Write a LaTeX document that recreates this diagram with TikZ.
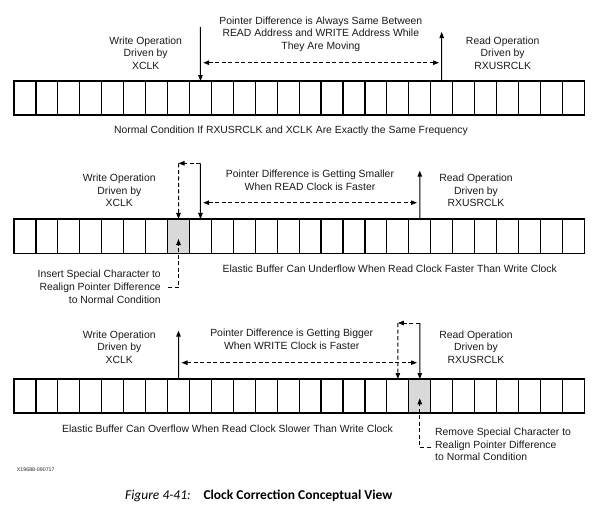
\documentclass[tikz,border=0pt]{standalone}
\usepackage{fontspec}
\setmainfont{Liberation Sans}
\newfontfamily\capfont{Carlito}
\usetikzlibrary{arrows.meta}
\begin{document}
\begin{tikzpicture}[x=1pt,y=-1pt,
  cell/.style={draw=black,line width=1.2pt,minimum width=21.935pt,minimum height=34pt,inner sep=0pt,outer sep=0pt},
  tip/.style={-{Triangle[length=6pt,width=4.5pt]}},
  arr/.style={tip,line width=1pt},
  darr/.style={arr,dash pattern=on 4pt off 2.5pt},
  dbl/.style={{Triangle[length=6pt,width=4.5pt]}-{Triangle[length=6pt,width=4.5pt]},line width=1pt,dash pattern=on 4pt off 2.5pt},
  lbl/.style={inner sep=0pt,align=center,font=\fontsize{10.4}{12.6}\selectfont,text=black!90},
  lblone/.style={inner sep=0pt,anchor=base,font=\fontsize{10.4}{12.6}\selectfont,text=black!90}]
\useasboundingbox (0,0) rectangle (603,517);
% buffers
\foreach \i in {0,...,25}{
  \node[cell] (A\i) at ({14+(\i+0.5)*21.935},98) {};
}
\foreach \i in {0,...,25}{
  \ifnum\i=7 \def\f{black!15}\else\def\f{none}\fi
  \node[cell,fill=\f,minimum height=34.7pt] (B\i) at ({14+(\i+0.5)*21.935},236.3) {};
}
\foreach \i in {0,...,25}{
  \ifnum\i=18 \def\f{black!15}\else\def\f{none}\fi
  \node[cell,fill=\f] (C\i) at ({14+(\i+0.5)*21.935},396) {};
}
% ---------- buffer 1
\node[lbl] (w1l) at (145.7,53) {Write Operation\\Driven by\\XCLK};
\node[lbl] (p1l) at (320.8,34) {Pointer Difference is Always Same Between\\READ Address and WRITE Address While\\They Are Moving};
\node[lbl] (r1l) at (502.7,53) {Read Operation\\Driven by\\RXUSRCLK};
\node[lblone] (n1l) at (291,133.3) {Normal Condition If RXUSRCLK and XCLK Are Exactly the Same Frequency};
\coordinate (w1t) at (200.4,27);
\draw[arr] (w1t) -- (A8.north);
\coordinate (r1t) at (441.7,32);
\draw[arr] (A19.north) -- (r1t);
\coordinate (d1l) at (203.2,62.7);
\coordinate (d1r) at (439,62.7);
\draw[dbl] (d1l) -- (d1r);
% ---------- buffer 2
\node[lbl] (w2l) at (119.3,190.3) {Write Operation\\Driven by\\XCLK};
\node[lbl] (p2l) at (310,180.4) {Pointer Difference is Getting Smaller\\When READ Clock is Faster};
\node[lbl] (r2l) at (476,190.3) {Read Operation\\Driven by\\RXUSRCLK};
\node[lblone] (e2l) at (389.7,272.7) {Elastic Buffer Can Underflow When Read Clock Faster Than Write Clock};
\node[lbl,align=right,anchor=east] (i2l) at (161,286.7) {Insert Special Character to\\Realign Pointer Difference\\to Normal Condition};
\coordinate (w2t) at (200.4,163.3);
\draw[arr] (w2t) -- (B8.north);
\coordinate (k2) at (178.5,163.3);
\draw[darr] (w2t) -- (k2);
\draw[darr] (k2) -- (B7.north);
\coordinate (r2t) at (419.8,170.7);
\draw[arr] (B18.north) -- (r2t);
\coordinate (d2l) at (203.2,202.7);
\coordinate (d2r) at (417,202.7);
\draw[dbl] (d2l) -- (d2r);
\coordinate (i2a) at (168.3,287.7);
\coordinate (i2b) at (178.5,287.7);
\coordinate (i2c) at (178.5,239);
\draw[darr] (i2a) -- (i2b) -- (i2c);
% ---------- buffer 3
\node[lbl] (w3l) at (119.3,347) {Write Operation\\Driven by\\XCLK};
\node[lbl] (p3l) at (291.7,339) {Pointer Difference is Getting Bigger\\When WRITE Clock is Faster};
\node[lbl] (r3l) at (476,347) {Read Operation\\Driven by\\RXUSRCLK};
\node[lblone] (e3l) at (227.5,432.3) {Elastic Buffer Can Overflow When Read Clock Slower Than Write Clock};
\node[lbl,align=left,anchor=west] (m3l) at (435,444.5) {Remove Special Character to\\Realign Pointer Difference\\to Normal Condition};
\coordinate (w3t) at (178.5,330.7);
\draw[arr] (C7.north) -- (w3t);
\coordinate (r3t) at (419.8,323);
\draw[arr] (r3t) -- (C18.north);
\coordinate (k3) at (397.9,323);
\draw[darr] (r3t) -- (k3);
\draw[darr] (k3) -- (C17.north);
\coordinate (d3l) at (181.5,362.7);
\coordinate (d3r) at (417,362.7);
\draw[dbl] (d3l) -- (d3r);
\coordinate (m3a) at (430.7,447.3);
\coordinate (m3b) at (419.8,447.3);
\coordinate (m3c) at (419.8,398.3);
\draw[darr] (m3a) -- (m3b) -- (m3c);
% ---------- footer
\node[inner sep=0pt,anchor=base west,font=\fontsize{5.3}{6}\selectfont,text=black!85] (xid) at (16.7,471) {X19688-090717};
\node[inner sep=0pt,anchor=base west,font=\capfont\itshape\fontsize{13.5}{15}\selectfont] (figno) at (125,499.3) {Figure 4-41:};
\node[inner sep=0pt,anchor=base west,font=\capfont\bfseries\fontsize{13.5}{15}\selectfont] (figt) at (203.3,499.3) {Clock Correction Conceptual View};
\end{tikzpicture}
\end{document}
